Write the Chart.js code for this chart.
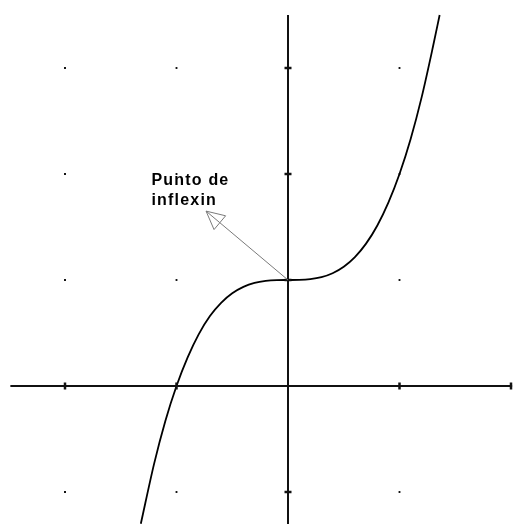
<!DOCTYPE html>
<html>
<head>
<meta charset="utf-8">
<script src="https://cdn.jsdelivr.net/npm/chart.js@4/dist/chart.umd.min.js"></script>
<style>
  html, body { margin: 0; padding: 0; background: #fff; overflow: hidden; }
  #wrap { width: 515px; height: 524px; position: relative; }
</style>
</head>
<body>
<div id="wrap"><canvas id="c"></canvas></div>
<script>
// Curve readings (x, y)
const curveX = [-1.32, -1.2, -1.1, -1.0, -0.9, -0.8, -0.7, -0.6, -0.5, -0.4, -0.3, -0.2, -0.1, 0, 0.1, 0.2, 0.3, 0.4, 0.5, 0.6, 0.7, 0.8, 0.9, 1.0, 1.1, 1.2, 1.3, 1.36];
const curveY = [-1.30, -0.73, -0.33, 0, 0.27, 0.49, 0.66, 0.785, 0.875, 0.935, 0.973, 0.992, 0.999, 1.0, 1.001, 1.008, 1.027, 1.064, 1.125, 1.216, 1.343, 1.512, 1.73, 2.0, 2.33, 2.73, 3.2, 3.5];

// Axes extents
const xAxisRange = [-2.49, 2.01];
const yAxisRange = [-1.32, 3.5];

// Tick marks
const xTicks = [-2, -1, 1, 2];
const yTicks = [-1, 1, 2, 3];

// Grid dots
const dotX = [-2, -1, 1];
const dotY = [-1, 1, 2, 3];

// Annotation
const labelLines = ["Punto de", "inflexin"];
const labelAnchor = { x: -1.225, y: 1.9 };
const arrowFrom = { x: 0, y: 1 };
const arrowTip = { x: -0.735, y: 1.65 };

const curveData = curveX.map((x, i) => ({ x, y: curveY[i] }));
const dots = [];
dotX.forEach(x => dotY.forEach(y => dots.push({ x, y })));

const annotationPlugin = {
  id: 'annot',
  afterDatasetsDraw(chart) {
    const ctx = chart.ctx;
    const xs = chart.scales.x, ys = chart.scales.y;
    const fx = xs.getPixelForValue(arrowFrom.x), fy = ys.getPixelForValue(arrowFrom.y);
    const tx = xs.getPixelForValue(arrowTip.x), ty = ys.getPixelForValue(arrowTip.y);
    ctx.save();
    ctx.strokeStyle = '#7a7a7a';
    ctx.lineWidth = 1;
    ctx.beginPath();
    ctx.moveTo(fx, fy);
    ctx.lineTo(tx, ty);
    ctx.stroke();
    const ang = Math.atan2(fy - ty, fx - tx);
    const len = 18, half = 9;
    const bx = tx + Math.cos(ang) * len, by = ty + Math.sin(ang) * len;
    const px = -Math.sin(ang) * half, py = Math.cos(ang) * half;
    ctx.beginPath();
    ctx.moveTo(tx, ty);
    ctx.lineTo(bx + px, by + py);
    ctx.lineTo(bx - px, by - py);
    ctx.closePath();
    ctx.fillStyle = '#fff';
    ctx.fill();
    ctx.stroke();
    ctx.beginPath();
    ctx.moveTo(bx, by);
    ctx.lineTo(tx, ty);
    ctx.stroke();
    // label
    ctx.fillStyle = '#000';
    ctx.font = 'bold 16px "Liberation Sans", Arial, sans-serif';
    ctx.textBaseline = 'alphabetic';
    ctx.textAlign = 'left';
    if ('letterSpacing' in ctx) ctx.letterSpacing = '1.2px';
    const lx = xs.getPixelForValue(labelAnchor.x), ly = ys.getPixelForValue(labelAnchor.y);
    labelLines.forEach((t, i) => ctx.fillText(t, lx, ly + i * 20.5));
    ctx.restore();
  }
};

new Chart(document.getElementById('c'), {
  type: 'scatter',
  data: {
    datasets: [
      {
        label: 'xAxis',
        data: xAxisRange.map(x => ({ x, y: 0 })),
        showLine: true, borderColor: '#111', borderWidth: 2, pointRadius: 0
      },
      {
        label: 'yAxis',
        data: yAxisRange.map(y => ({ x: 0, y })),
        showLine: true, borderColor: '#111', borderWidth: 2, pointRadius: 0
      },
      {
        label: 'xTicks',
        data: xTicks.map(x => ({ x, y: 0 })),
        pointStyle: 'line', rotation: 90, pointRadius: 3.5, borderColor: '#111', borderWidth: 2.5
      },
      {
        label: 'yTicks',
        data: yTicks.map(y => ({ x: 0, y })),
        pointStyle: 'line', rotation: 0, pointRadius: 3.5, borderColor: '#111', borderWidth: 2.5
      },
      {
        label: 'dots',
        data: dots,
        pointStyle: 'rect', pointRadius: 1.3, borderWidth: 0, backgroundColor: '#000'
      },
      {
        label: 'curve',
        data: curveData,
        showLine: true, borderColor: '#000', borderWidth: 1.8, pointRadius: 0,
        cubicInterpolationMode: 'monotone'
      }
    ]
  },
  options: {
    responsive: true,
    maintainAspectRatio: false,
    animation: false,
    layout: { padding: 0, autoPadding: false },
    plugins: { legend: { display: false }, tooltip: { enabled: false } },
    scales: {
      x: { type: 'linear', display: false, min: -288 / 111.5, max: 227 / 111.5 },
      y: { type: 'linear', display: false, min: -138 / 106, max: 386 / 106 }
    }
  },
  plugins: [annotationPlugin]
});
</script>
</body>
</html>
